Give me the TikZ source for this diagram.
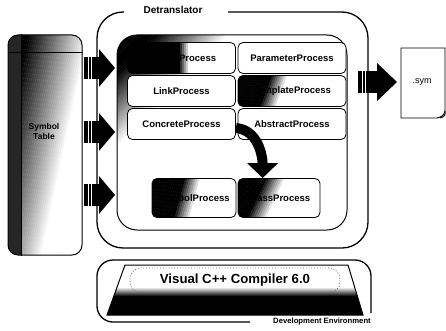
\documentclass[tikz,border=0pt]{standalone}
\usepackage{fontspec}
\setmainfont{Liberation Sans}
\usetikzlibrary{arrows.meta}

\pgfdeclareverticalshading{platefade}{100bp}{color(0bp)=(black); color(44bp)=(black); color(48bp)=(black!55); color(53bp)=(white); color(100bp)=(white)}

% stripes from a corner: corner, angle, end of black, start of white
\newcommand{\fadefrom}[4]{%
  \begin{scope}[shift={#1}, rotate=#2]
    \foreach \s in {0,2,...,330}{%
      \pgfmathsetmacro{\fadek}{100*min(1,max(0,(#4-\s)/(#4-#3)))}%
      \fill[black!\fadek] (\s,-400) rectangle (\s+2.3,400);
    }
  \end{scope}}

\tikzset{
  frame/.style={line width=1.3pt, rounded corners=26pt},
  proc/.style={draw, line width=0.8pt, rounded corners=5pt, fill=white,
    minimum width=108pt, minimum height=31pt, inner sep=0pt,
    font=\fontsize{9.5}{10}\selectfont\bfseries},
  bigarrow/.style={line width=10pt, -{Triangle[width=30pt,length=15pt]}},
}

\begin{document}
\begin{tikzpicture}[x=1pt, y=1pt]
\useasboundingbox (0,0) rectangle (446,330);

% frames
\draw[frame] (228,318) -- (368,318) -- (368,82) -- (97,82) -- (97,318) -- (124,318);
\node[font=\fontsize{10}{10}\selectfont\bfseries] (detr) at (173,320) {Detranslator};
\draw[frame, rounded corners=16pt] (250,8) -- (97,8) -- (97,70) -- (371,70) -- (371,17);
\node[font=\fontsize{7.7}{8}\selectfont\bfseries] (devenv) at (322,8) {Development Environment};

% symbol table
\begin{scope}
  \clip[rounded corners=10pt] (8,75) rectangle (82,295);
  \fadefrom{(8,295)}{-12}{18}{78}
  \fill[black!85] (8,75) rectangle (22,295);
\end{scope}
\node[draw, line width=1pt, rounded corners=10pt, minimum width=74pt, minimum height=220pt] (symtab) at (45,185) {};
\draw[line width=0.8pt] ([xshift=14pt]symtab.south west) -- ([xshift=14pt]symtab.north west);
\draw[line width=0.8pt] ([yshift=-18pt]symtab.north west) -- ([yshift=-18pt]symtab.north east);
\node[font=\fontsize{8.5}{10}\selectfont\bfseries, align=center] (symlabel) at (44,199) {Symbol\\Table};

% detranslator panel
\begin{scope}
  \clip[rounded corners=20pt] (117,100) rectangle (347,295);
  \fadefrom{(117,295)}{-45}{26}{78}
\end{scope}
\node[draw, line width=1pt, rounded corners=20pt, minimum width=230pt, minimum height=195pt] (panel) at (232,197.5) {};

\begin{scope}
  \clip[rounded corners=5pt] (127.5,256.5) rectangle (235.5,287.5);
  \fadefrom{(127.5,287.5)}{0}{50}{60}
\end{scope}
\node[proc, fill=none] (header) at (181.5,272) {HeaderProcess};
\node[proc] (param) at (292,272) {ParameterProcess};
\node[proc] (link) at (181.5,239) {LinkProcess};
\begin{scope}
  \clip[rounded corners=5pt] (238,223.5) rectangle (346,254.5);
  \fadefrom{(238,254.5)}{-20}{30}{46}
\end{scope}
\node[proc, fill=none] (templ) at (292,239) {TemplateProcess};
\node[proc] (concrete) at (181.5,206) {ConcreteProcess};
\node[proc] (abstr) at (292,206) {AbstractProcess};
\begin{scope}
  \clip[rounded corners=5pt] (152,112.5) rectangle (236,151.5);
  \fadefrom{(152,151.5)}{-15}{30}{46}
\end{scope}
\node[proc, fill=none, minimum width=84pt, minimum height=39pt, text depth=-8pt] (symproc) at (194,132) {SymbolProcess};
\begin{scope}
  \clip[rounded corners=5pt] (238,112.5) rectangle (320,151.5);
  \fadefrom{(238,151.5)}{-25}{24}{42}
\end{scope}
\node[proc, fill=none, minimum width=82pt, minimum height=39pt, text depth=-8pt] (clsproc) at (279,132) {ClassProcess};
\draw[bigarrow] ([yshift=-4pt]concrete.east) to[out=-5,in=90] ([xshift=25pt]clsproc.north west);

% block arrows
\foreach \y in {262,198,135}{
  \fill (84,\y-11) rectangle (100,\y+11);
  \draw[white, line width=0.5pt] (88,\y-11) -- (88,\y+11) (91,\y-11) -- (91,\y+11);
  \fill (99,\y+19) -- (115,\y) -- (99,\y-19) -- cycle;
}
\fill (358,237) rectangle (378,259);
\draw[white, line width=0.5pt] (362,237) -- (362,259) (365,237) -- (365,259);
\fill (377,267) -- (397,248) -- (377,229) -- cycle;

% .sym file
\draw[line width=0.9pt] (401,212) -- (401,282) -- (445,282) -- (445,219)
  .. controls (444,214) and (441,213) .. (437,212) -- cycle;
\draw[line width=0.9pt] (445,219) .. controls (446,215) and (444,213) .. (440,212);
\node[font=\fontsize{9}{10}\selectfont] (symfile) at (422,248) {.sym};

% compiler plate
\path[draw, line width=1pt, shading=platefade] (107,15) -- (125,65) -- (348,65) -- (363,15) -- cycle;
\node[draw=black!60, dotted, line width=0.8pt, rounded corners=11pt, minimum width=210pt,
  minimum height=25pt, font=\fontsize{13.2}{14}\selectfont\bfseries] (vc) at (235,49.5) {Visual C++ Compiler 6.0};
\end{tikzpicture}
\end{document}
